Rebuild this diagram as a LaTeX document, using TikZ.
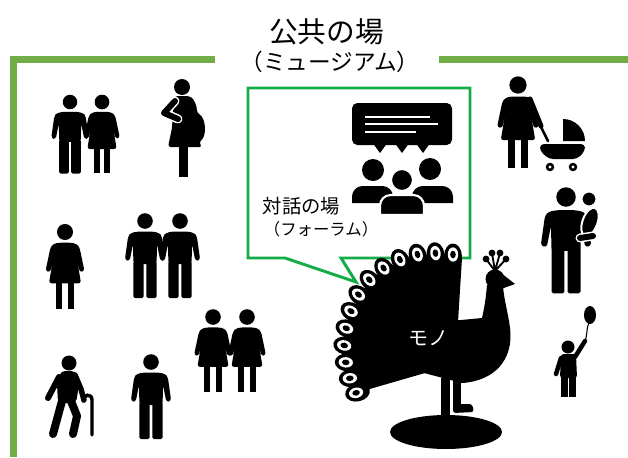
\documentclass[tikz,border=0pt]{standalone}
\usepackage{fontspec}
\newfontfamily\jp{Noto Sans CJK JP}
\definecolor{framegreen}{RGB}{112,173,71}
\definecolor{bubblegreen}{RGB}{20,172,72}
\tikzset{
  frameline/.style={draw=framegreen, line width=4.9pt},
  bubbleline/.style={draw=bubblegreen, fill=white, line width=2.2pt, line join=miter},
  limb/.style={line width=#1*0.75pt, line cap=round, line join=round},
  halo/.style={draw=white, line width=#1*0.75pt, line cap=round, line join=round},
  pics/manfig/.style={code={
    \fill (0,0) circle (7.8);
    \fill[rounded corners=2.2] (-7,10.5) -- (7,10.5) -- (14,11.8) -- (16.8,15) -- (20.2,39) -- (15.4,40.2) -- (12,23) -- (11.6,43) -- (-11.6,43) -- (-12,23) -- (-15.4,40.2) -- (-20.2,39) -- (-16.8,15) -- (-14,11.8) -- cycle;
    \fill[rounded corners=1.2] (-11.6,40) -- (-11.6,77) -- (-1.3,77) -- (-1.3,40) -- cycle;
    \fill[rounded corners=1.2] (1.3,40) -- (1.3,77) -- (11.6,77) -- (11.6,40) -- cycle;
  }},
  pics/womanfig/.style={code={
    \fill (0,0) circle (7.5);
    \fill[rounded corners=2] (-6,10) -- (6,10) -- (11,11.2) -- (13.6,14.5) -- (18.2,36.5) -- (13.8,37.6) -- (10.6,22) -- (15,48) -- (-15,48) -- (-10.6,22) -- (-13.8,37.6) -- (-18.2,36.5) -- (-13.6,14.5) -- (-11,11.2) -- cycle;
    \fill (-8.5,46) rectangle (-2.5,72);
    \fill (2.5,46) rectangle (8.5,72);
  }},
  titlefont/.style={font=\jp\fontsize{21.5}{23}\selectfont},
  subfont/.style={font=\jp\fontsize{17}{19}\selectfont},
  forumfont/.style={font=\jp\fontsize{14.5}{16}\selectfont},
  forumsub/.style={font=\jp\fontsize{12.3}{14}\selectfont},
}
\begin{document}
\begin{tikzpicture}[x=0.75pt,y=-0.75pt]
\useasboundingbox (0,0) rectangle (628,457);
\fill[white] (0,0) rectangle (628,457);

% frame of the public space
\draw[frameline] (13.4,457) -- (13.4,59.6) -- (215,59.6);
\draw[frameline] (439,59.6) -- (628,59.6);
\node[titlefont, inner sep=0] (title) at (326.5,31.5) {公共の場};
\node[subfont, inner sep=0] (titlesub) at (330,62) {（ミュージアム）};

% speech bubble of the forum
\path[bubbleline] (248,88) -- (470,88) -- (470,258) -- (341,258) -- (356,282) -- (285,258) -- (248,258) -- cycle;

% forum icon: speech box over a group
\fill[rounded corners=4pt] (352,103) rectangle (452,145);
\foreach \x in {380,402,423} \fill (\x-6.5,144) -- (\x+6.5,144) -- (\x,153) -- cycle;
\draw[white, line width=1.5pt] (365,117) -- (430,117) (365,124.3) -- (438,124.3) (365,131.7) -- (416,131.7);
\fill (373,170) circle (11);
\fill (430,169) circle (11);
\fill (352,203) [rounded corners=8pt] -- (352,186) -- (393,186) [sharp corners] -- (393,203) -- cycle;
\fill (412,203) [rounded corners=8pt] -- (412,186) -- (453,186) [sharp corners] -- (453,203) -- cycle;
\filldraw[draw=white, line width=1.6pt] (402,180) circle (11);
\filldraw[draw=white, line width=1.6pt] (380,215) [rounded corners=8pt] -- (380,195) -- (424,195) [sharp corners] -- (424,215) -- cycle;
\node[forumfont, inner sep=0] (forum) at (301.5,206.5) {対話の場};
\node[forumsub, inner sep=0] (forumsub) at (321,229.5) {（フォーラム）};

% peacock: tail fan
\fill (425,373) -- (357.6,392.5) -- (351.3,378.1) -- (347.3,362.5) -- (345.7,345.8) -- (347.6,328.8) -- (352.3,311.9) -- (359.7,295.5) -- (370.3,280.8) -- (384.4,269.2) -- (400.6,260.8) -- (417.9,255.9) -- (435.7,254.6) -- (453,256) -- (462,258) -- (458,322) -- cycle;
\begin{scope}[shift={(455,370)}]
  \foreach \a/\r in {193/100,184.5/104,176/108,167.5/112,159/115,150.5/118,142/121,133.5/123,125/123,116.5/122,108/120,99.5/117,91/114}{
    \fill[rotate=\a] (\r,0) ellipse (12.5 and 8.9);
    \fill[white, rotate=\a] (\r+1.5,0) ellipse (7.2 and 5.2);
    \fill[rotate=\a] (\r+1.5,0) ellipse (3.8 and 2.8);
  }
\end{scope}
% peacock: body, head and crest
\fill (440,322) -- (482,318) .. controls (485,305) and (486,296) .. (487,285) -- (503,286) .. controls (504,300) and (508,312) .. (510,328) .. controls (514,360) and (494,381) .. (462,383) -- (424,373) -- cycle;
\fill (495,279) circle (9.5);
\fill (501,273) -- (515,284) -- (501,289) -- cycle;
\draw[line width=1.4pt] (486,259) -- (495,271) -- (492,253) (495,271) -- (500,253) (495,271) -- (506,259);
\foreach \p in {(486,259),(492,253),(500,253),(506,259)} \fill \p circle (3.4);
% peacock: legs and stand
\fill (441,378) rectangle (450,420);
\fill (453,378) rectangle (461,409);
\fill[rounded corners=2pt] (453,404) -- (472,404) -- (474,412) -- (453,413) -- cycle;
\fill (446,432) ellipse (56 and 17);
\node[text=white, font=\jp\fontsize{15}{16}\selectfont, inner sep=0] (mono) at (428,338) {モノ};

% visitors, left side
\pic[scale=0.93] at (70,102) {manfig};
\pic[scale=0.98] at (102,102) {womanfig};
\pic[scale=1.07] at (65,232) {womanfig};
\pic at (145,221) {manfig};
\pic at (180,221) {manfig};
\pic[scale=1.04] at (213,317) {womanfig};
\pic[scale=1.04] at (247,317) {womanfig};
\pic at (151,362) {manfig};

% pregnant woman
\fill (182,87) circle (8);
\fill[rounded corners=2pt] (175,96) -- (189,96) .. controls (194,99) and (197,106) .. (197,113) .. controls (206,118) and (207,136) .. (199,142) -- (202,147) -- (168,147) -- (172,128) -- (173,110) -- cycle;
\fill (179,145) rectangle (188,177);
\draw[halo=9] (175,101) -- (164,113) -- (178,119);
\draw[limb=6] (175,101) -- (164,113) -- (178,119);

% elderly man with a cane
\fill (69,363) circle (7.5);
\fill[rounded corners=3pt] (61,371) -- (75,371) -- (80,379) -- (76,403) -- (58,403) -- (57,384) -- cycle;
\draw[limb=6] (59,377) -- (48,398);
\draw[limb=5.5] (75,375) -- (81,389) -- (84,400);
\draw[line width=2.6pt, line cap=round] (83,401) .. controls (83,394) and (92,393) .. (92,400) -- (92,435);
\draw[limb=8] (62,401) -- (53,434);
\draw[limb=8] (71,401) -- (77,416) -- (73,434);

% woman with a pram
\pic[scale=1.15] at (518,85) {womanfig};
\draw[limb=5] (530,99) -- (541,126);
\draw[line width=2pt, line cap=round] (540,125) -- (548,141);
\fill (563,141) -- (563,119) arc[start angle=270, end angle=360, radius=22] -- cycle;
\fill[rounded corners=3pt] (540,144) -- (585,144) -- (585,151) -- (577,159) -- (549,159) -- (540,151) -- cycle;
\foreach \x in {550,573} { \fill (\x,167) circle (4.3); \fill[white] (\x,167) circle (1.7); }

% man carrying a baby
\pic[scale=1.25] at (566,197) {manfig};
\filldraw[draw=white, line width=1.5pt] (590,222) ellipse [x radius=7.5, y radius=15, rotate=-20];
\filldraw[draw=white, line width=1.5pt] (589,199) circle (7.5);
\draw[halo=9] (580,238) -- (593,236);
\draw[limb=6] (580,238) -- (593,236);

% child with a balloon
\fill (568,347) circle (6.5);
\fill[rounded corners=2pt] (561,354) -- (576,354) -- (577,378) -- (560,378) -- cycle;
\draw[limb=4.5] (561,358) -- (556,374);
\draw[limb=4.5] (575,357) -- (585,341);
\fill (561,376) rectangle (567.6,397);
\fill (569.4,376) rectangle (576,397);
\draw[line width=0.8pt] (585,341) .. controls (588,333) and (586,328) .. (589,323);
\fill (590,315) ellipse (6 and 9);
\end{tikzpicture}
\end{document}
